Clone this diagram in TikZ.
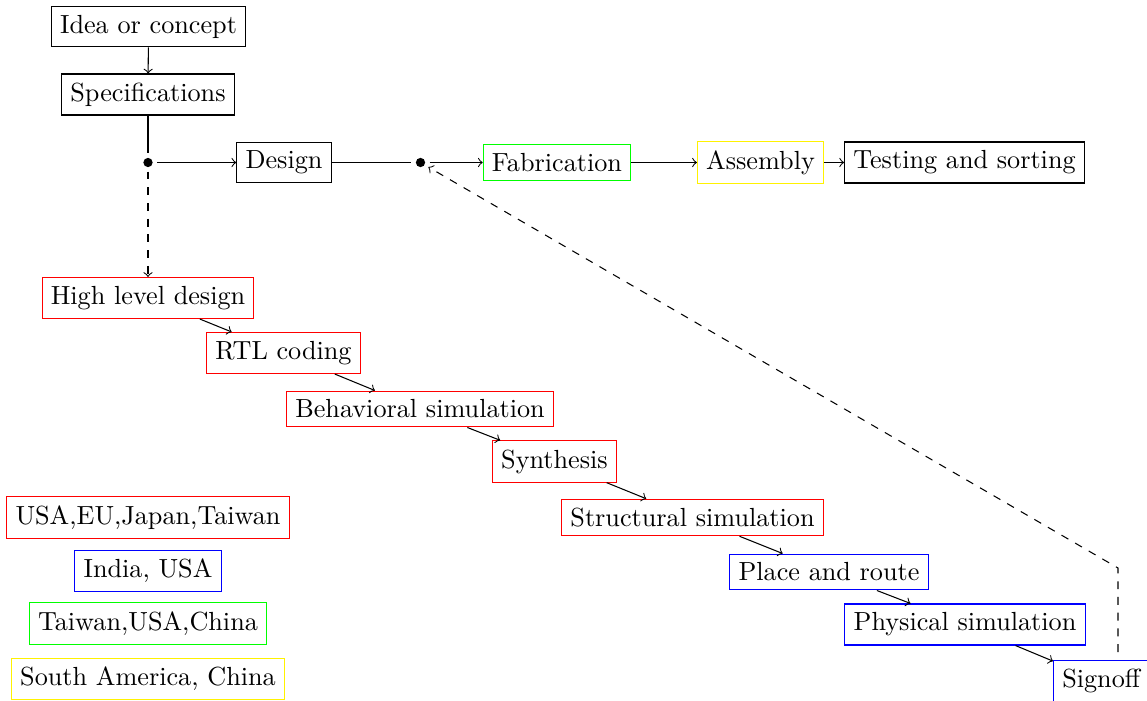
\documentclass[tikz,border=0pt]{standalone}
\begin{document}
\begin{tikzpicture}[x=0.3817pt,y=-0.3817pt,
  box/.style={draw,rectangle},
  dotnode/.style={circle,fill=black,inner sep=1.25pt,outer sep=1.7pt},
  flow/.style={->},
  back/.style={->,dashed}]
\useasboundingbox (0,0) rectangle (1147,700);
% main chain
\node[box] (idea) at (148.5,26.5) {Idea or concept};
\node[box] (spec) at (148,94.5) {Specifications};
\node[dotnode] (d1) at (148,162.5) {};
\node[box] (design) at (284,162.5) {Design};
\node[dotnode] (d2) at (420.5,162.5) {};
\node[box,draw=green] (fab) at (557,162.5) {Fabrication};
\node[box,draw=yellow] (asm) at (760.5,162.5) {Assembly};
\node[box] (test) at (964.5,162.5) {Testing and sorting};
% design flow
\node[box,draw=red] (hld) at (148,298) {High level design};
\node[box,draw=red] (rtl) at (283.5,353) {RTL coding};
\node[box,draw=red] (beh) at (420,409) {Behavioral simulation};
\node[box,draw=red] (syn) at (554.5,461.5) {Synthesis};
\node[box,draw=red] (str) at (692.5,517.5) {Structural simulation};
\node[box,draw=blue] (par) at (829,572) {Place and route};
\node[box,draw=blue] (phy) at (965,624.5) {Physical simulation};
\node[box,draw=blue,anchor=north west] (sig) at (1053,660) {Signoff};
% legend
\node[box,draw=red] (l1) at (148,517.5) {USA,EU,Japan,Taiwan};
\node[box,draw=blue] (l2) at (148,571) {India, USA};
\node[box,draw=green] (l3) at (148,623.5) {Taiwan,USA,China};
\node[box,draw=yellow] (l4) at (148,679) {South America, China};
% connectors
\draw[flow] (idea) -- (spec);
\draw (spec) -- (d1);
\draw[flow] (d1) -- (design);
\draw (design) -- (d2);
\draw[flow] (d2) -- (fab);
\draw[flow] (fab) -- (asm);
\draw[flow] (asm) -- (test);
\draw[back] (d1) -- (hld);
\draw[flow] (hld) -- (rtl);
\draw[flow] (rtl) -- (beh);
\draw[flow] (beh) -- (syn);
\draw[flow] (syn) -- (str);
\draw[flow] (str) -- (par);
\draw[flow] (par) -- (phy);
\draw[flow] (phy) -- (sig);
\coordinate (s1) at (1118,652);
\coordinate (s2) at (1118,568);
\draw[back] (s1) -- (s2) -- (d2);
\end{tikzpicture}
\end{document}
